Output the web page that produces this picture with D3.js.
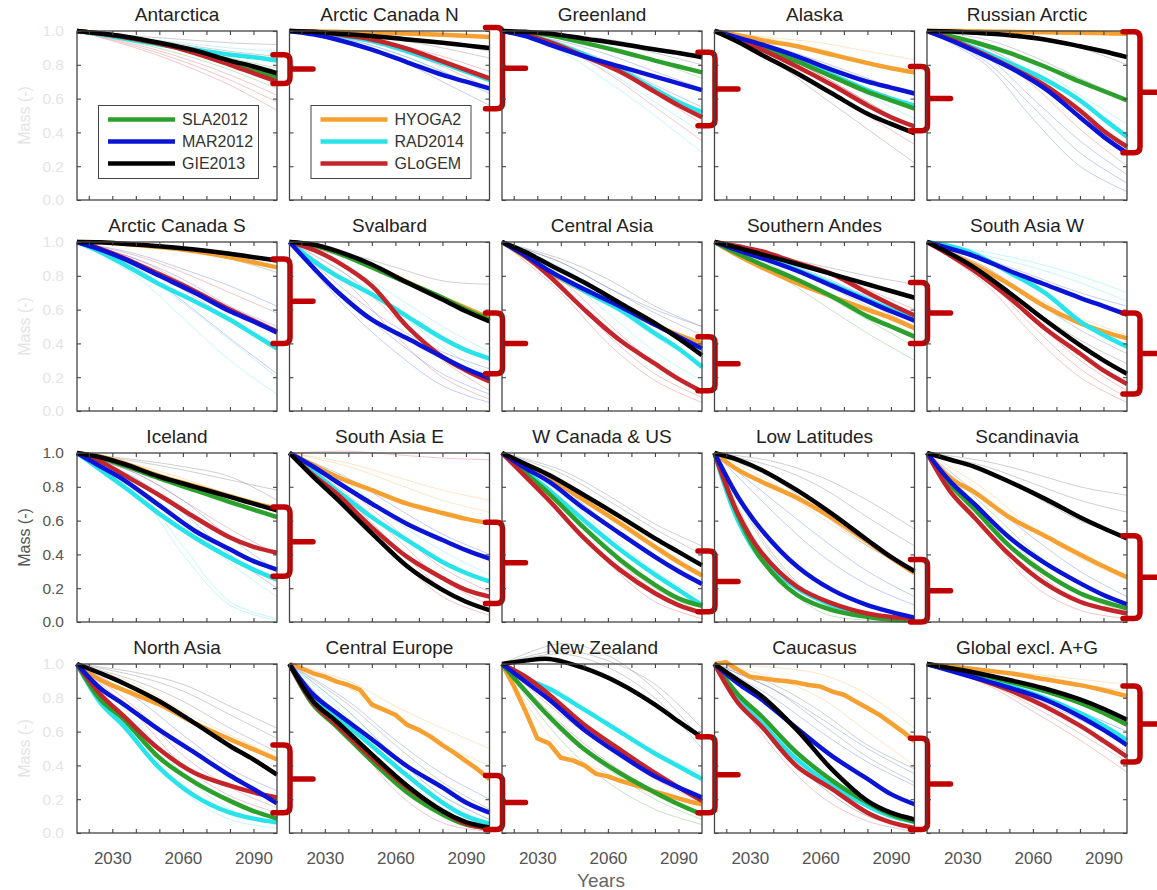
<!DOCTYPE html>
<html>
<head>
<meta charset="utf-8">
<script src="https://cdn.jsdelivr.net/npm/d3@7"></script>
<style>
  body { margin: 0; background: #fff; }
  svg { display: block; }
  text { font-family: "Liberation Sans", Arial, Helvetica, sans-serif; }
</style>
</head>
<body>
<svg id="chart" width="1157" height="890"></svg>
<script>
// Glacier mass (relative to 2015) per region, six glacier models.
const regions = ["Antarctica", "Arctic Canada N", "Greenland", "Alaska", "Russian Arctic",
  "Arctic Canada S", "Svalbard", "Central Asia", "Southern Andes", "South Asia W",
  "Iceland", "South Asia E", "W Canada & US", "Low Latitudes", "Scandinavia",
  "North Asia", "Central Europe", "New Zealand", "Caucasus", "Global excl. A+G"];

const years = [2015, 2025, 2035, 2050, 2065, 2080, 2090, 2100];
// rows with 18 values are given every 5 years
const detailYears = [2015, 2020, 2025, 2030, 2035, 2040, 2045, 2050, 2055, 2060,
  2065, 2070, 2075, 2080, 2085, 2090, 2095, 2100];
const memberYears = [2015, 2040, 2060, 2080, 2100];
const yTicks = [0, 0.2, 0.4, 0.6, 0.8, 1.0];
const xMinorTicks = [2020, 2030, 2040, 2050, 2060, 2070, 2080, 2090];
const xLabelTicks = [2030, 2060, 2090];

const sla2012 = [
  [1, .985, .965, .925, .875, .81, .77, .725],
  null,
  [1, .99, .975, .93, .88, .825, .79, .755],
  [1, .955, .90, .82, .73, .64, .59, .54],
  [1, .97, .935, .87, .79, .70, .645, .59],
  null,
  [1, .98, .937, .85, .76, .67, .60, .54],
  null,
  [1, .93, .867, .778, .677, .56, .50, .44],
  null,
  [1, .97, .925, .85, .78, .71, .665, .62],
  null,
  [1, .88, .76, .555, .37, .22, .14, .095],
  [1, .63, .37, .16, .07, .03, .015, .01],
  [1, .81, .67, .45, .29, .17, .12, .08],
  [1, .79, .67, .445, .30, .19, .13, .085],
  [1, .76, .63, .425, .24, .11, .05, .03],
  [1, .84, .69, .495, .355, .24, .17, .11],
  [1, .82, .69, .475, .31, .18, .11, .067],
  [1, .97, .945, .895, .84, .77, .71, .64]
];

const mar2012 = [
  null,
  [1, .98, .95, .89, .815, .74, .70, .66],
  [1, .97, .92, .85, .79, .73, .69, .65],
  [1, .96, .92, .85, .77, .70, .665, .63],
  [1, .945, .883, .785, .66, .49, .375, .277],
  [1, .955, .90, .80, .70, .59, .53, .465],
  [1, .85, .71, .54, .43, .32, .25, .195],
  [1, .92, .83, .72, .62, .51, .44, .37],
  [1, .95, .905, .83, .74, .65, .59, .535],
  [1, .96, .917, .83, .75, .67, .62, .57],
  [1, .92, .84, .69, .54, .43, .36, .31],
  [1, .92, .83, .70, .58, .485, .425, .375],
  [1, .91, .83, .67, .525, .385, .30, .225],
  [1, .74, .545, .33, .19, .10, .06, .026],
  [1, .83, .70, .50, .35, .23, .16, .105],
  [1, .855, .76, .61, .475, .34, .26, .175],
  [1, .82, .71, .555, .395, .27, .18, .12],
  [1, .895, .79, .61, .465, .335, .27, .21],
  [1, .885, .79, .62, .455, .32, .23, .17],
  [1, .96, .92, .86, .79, .69, .61, .52]
];

const gie2013 = [
  [1, .985, .967, .93, .885, .825, .79, .75],
  [1, .995, .985, .97, .95, .93, .915, .90],
  [1, .995, .985, .955, .925, .89, .87, .845],
  [1, .935, .86, .75, .63, .51, .45, .395],
  [1, .997, .99, .975, .95, .91, .88, .845],
  [1, .998, .99, .975, .955, .93, .91, .89],
  [1, .985, .947, .867, .76, .66, .59, .53],
  [1, .94, .867, .76, .64, .52, .43, .33],
  [1, .965, .927, .87, .81, .75, .71, .67],
  [1, .93, .85, .70, .54, .39, .30, .22],
  [1, .975, .935, .86, .80, .74, .70, .66],
  [1, .86, .73, .525, .33, .19, .12, .07],
  [1, .935, .87, .75, .625, .495, .415, .335],
  [1, .96, .90, .78, .64, .485, .385, .30],
  [1, .96, .92, .83, .73, .62, .555, .495],
  [1, .945, .885, .78, .65, .515, .435, .345],
  [1, .78, .66, .465, .28, .13, .065, .033],
  [1, 1.02, 1.03, .975, .885, .76, .66, .565],
  [1, .905, .81, .61, .375, .19, .12, .08],
  [1, .975, .95, .905, .855, .79, .735, .67]
];

const hyoga2 = [
  null,
  [1, .998, .995, .99, .985, .978, .972, .965],
  null,
  [1, .975, .945, .91, .86, .81, .78, .755],
  [1, 1, .998, .995, .992, .99, .987, .984],
  [1, .998, .988, .97, .945, .91, .88, .85],
  [1, .98, .94, .86, .765, .67, .61, .55],
  [1, .91, .82, .71, .61, .51, .45, .40],
  [1, .92, .85, .756, .677, .60, .55, .49],
  [1, .93, .865, .75, .62, .52, .47, .43],
  [1, .978, .94, .865, .805, .745, .705, .67],
  [1, .93, .86, .78, .70, .645, .61, .585],
  [1, .92, .85, .72, .585, .445, .355, .275],
  [1, .90, .83, .735, .615, .475, .38, .29],
  [1, .85, .77, .62, .51, .40, .33, .265],
  [1, .905, .845, .76, .65, .555, .495, .435],
  [1, .975, .945, .925, .896, .876, .847, .76, .73, .70, .64, .61, .57, .52, .475, .425, .376, .318],
  [1, .87, .72, .56, .53, .445, .43, .40, .35, .335, .31, .29, .27, .245, .225, .205, .185, .17],
  [1, 1.01, .965, .925, .916, .906, .90, .89, .876, .867, .837, .818, .778, .74, .70, .65, .60, .543],
  [1, .985, .97, .945, .91, .875, .845, .81]
];

const rad2014 = [
  [1, .98, .955, .92, .89, .86, .845, .825],
  [1, .99, .975, .94, .88, .81, .76, .71],
  [1, .98, .94, .86, .77, .655, .58, .52],
  [1, .955, .905, .825, .74, .65, .60, .56],
  [1, .955, .90, .81, .715, .59, .48, .375],
  [1, .94, .867, .75, .65, .54, .455, .37],
  [1, .89, .80, .69, .56, .43, .36, .31],
  [1, .92, .83, .71, .60, .46, .37, .26],
  [1, .955, .91, .835, .75, .66, .60, .55],
  [1, .975, .93, .82, .70, .53, .45, .38],
  [1, .90, .80, .64, .50, .38, .31, .25],
  [1, .89, .78, .62, .485, .355, .29, .24],
  [1, .89, .78, .60, .43, .28, .19, .10],
  [1, .60, .37, .20, .10, .04, .02, .015],
  null,
  [1, .77, .63, .385, .22, .12, .085, .063],
  [1, .80, .69, .515, .34, .18, .10, .055],
  [1, .915, .855, .73, .60, .47, .395, .32],
  [1, .79, .65, .435, .28, .16, .10, .065],
  [1, .965, .93, .87, .80, .71, .635, .55]
];

const glogem = [
  [1, .985, .965, .925, .87, .80, .75, .70],
  [1, .995, .98, .95, .895, .82, .77, .72],
  [1, .975, .935, .85, .76, .64, .56, .49],
  [1, .95, .89, .79, .68, .56, .49, .435],
  [1, .95, .89, .79, .68, .53, .41, .315],
  [1, .96, .905, .81, .71, .60, .535, .47],
  [1, .955, .885, .74, .50, .32, .24, .175],
  [1, .915, .80, .60, .42, .28, .19, .115],
  [1, .975, .945, .877, .81, .70, .63, .565],
  [1, .92, .83, .67, .49, .34, .24, .16],
  [1, .95, .87, .75, .62, .50, .445, .41],
  [1, .87, .76, .56, .385, .26, .19, .15],
  [1, .86, .72, .495, .31, .17, .10, .055],
  [1, .64, .41, .21, .11, .05, .03, .02],
  [1, .77, .62, .40, .23, .12, .08, .05],
  [1, .82, .69, .495, .355, .28, .24, .21],
  [1, .77, .64, .445, .27, .13, .055, .025],
  [1, .925, .82, .64, .495, .355, .27, .19],
  [1, .77, .63, .395, .26, .12, .063, .03],
  [1, .965, .92, .845, .75, .635, .545, .45]
];

// Single ensemble members (model code, values at memberYears)
const members = [
  [["GLO", 1, .90, .80, .68, .53], ["GLO", 1, .92, .84, .74, .62], ["GIE", 1, .97, .95, .93, .92], ["GIE", 1, .96, .92, .88, .85], ["RAD", 1, .95, .91, .87, .84], ["SLA", 1, .93, .86, .77, .66], ["GLO", 1, .91, .82, .71, .58], ["RAD", 1, .96, .93, .90, .88], ["SLA", 1, .95, .90, .84, .78]],
  [["MAR", 1, .94, .84, .70, .56], ["GLO", 1, .96, .89, .79, .66], ["GIE", 1, .99, .97, .93, .88], ["GIE", 1, .98, .95, .90, .84], ["RAD", 1, .95, .87, .76, .64], ["HYO", 1, .995, .99, .98, .96], ["MAR", 1, .95, .87, .76, .63], ["GLO", 1, .97, .92, .85, .76], ["RAD", 1, .96, .90, .81, .70]],
  [["RAD", 1, .88, .70, .50, .28], ["GLO", 1, .90, .75, .55, .35], ["MAR", 1, .92, .82, .68, .55], ["GIE", 1, .98, .95, .90, .85], ["GLO", 1, .93, .80, .63, .45], ["SLA", 1, .96, .90, .82, .72], ["RAD", 1, .90, .76, .58, .40], ["MAR", 1, .94, .86, .76, .66], ["GIE", 1, .97, .93, .87, .80]],
  [["GIE", 1, .82, .62, .42, .22], ["GLO", 1, .85, .68, .50, .33], ["HYO", 1, .96, .93, .88, .83], ["MAR", 1, .91, .82, .72, .62], ["GIE", 1, .88, .74, .58, .42], ["RAD", 1, .88, .76, .62, .48], ["GLO", 1, .88, .74, .58, .42], ["HYO", 1, .95, .89, .82, .75], ["MAR", 1, .89, .78, .66, .54]],
  [["MAR", 1, .80, .48, .20, .05], ["MAR", 1, .85, .60, .35, .15], ["GLO", 1, .88, .68, .42, .20], ["GIE", 1, .98, .95, .90, .80], ["GIE", 1, .95, .85, .72, .60], ["RAD", 1, .90, .75, .52, .30], ["MAR", 1, .82, .55, .28, .10], ["GLO", 1, .90, .74, .52, .30], ["RAD", 1, .92, .80, .62, .45]],
  [["RAD", 1, .80, .55, .30, .10], ["MAR", 1, .85, .65, .43, .22], ["GLO", 1, .90, .76, .60, .45], ["GIE", 1, .98, .95, .90, .82], ["GLO", 1, .92, .82, .70, .58], ["MAR", 1, .93, .84, .74, .62], ["RAD", 1, .84, .64, .42, .20], ["GLO", 1, .88, .72, .54, .36], ["MAR", 1, .90, .78, .62, .50]],
  [["MAR", 1, .60, .35, .15, .05], ["GLO", 1, .75, .45, .20, .07], ["GIE", 1, .93, .85, .77, .75], ["GIE", 1, .90, .78, .65, .55], ["RAD", 1, .80, .60, .38, .20], ["MAR", 1, .70, .50, .35, .25], ["GLO", 1, .80, .55, .30, .12], ["MAR", 1, .65, .42, .22, .10], ["RAD", 1, .85, .68, .50, .35]],
  [["GLO", 1, .70, .40, .18, .05], ["GLO", 1, .78, .52, .28, .10], ["RAD", 1, .85, .68, .50, .35], ["GIE", 1, .88, .73, .58, .45], ["MAR", 1, .88, .73, .60, .50], ["RAD", 1, .80, .58, .35, .18], ["GLO", 1, .74, .45, .22, .08], ["RAD", 1, .84, .64, .44, .28], ["GIE", 1, .90, .78, .62, .50]],
  [["SLA", 1, .82, .64, .46, .30], ["GIE", 1, .92, .86, .80, .75], ["GLO", 1, .90, .78, .64, .50], ["HYO", 1, .85, .72, .58, .42], ["RAD", 1, .88, .76, .62, .48], ["MAR", 1, .90, .80, .68, .58], ["SLA", 1, .86, .70, .54, .38], ["GLO", 1, .93, .84, .72, .60], ["HYO", 1, .88, .76, .62, .48]],
  [["GLO", 1, .75, .45, .20, .05], ["GLO", 1, .80, .55, .30, .12], ["RAD", 1, .92, .85, .76, .65], ["MAR", 1, .90, .80, .70, .62], ["GIE", 1, .82, .60, .42, .28], ["HYO", 1, .85, .68, .55, .45], ["GLO", 1, .78, .50, .25, .08], ["RAD", 1, .94, .88, .80, .70], ["GIE", 1, .85, .66, .48, .34]],
  [["RAD", 1, .80, .45, .12, .02], ["RAD", 1, .85, .62, .35, .15], ["MAR", 1, .85, .65, .40, .20], ["GIE", 1, .95, .90, .84, .78], ["GLO", 1, .88, .72, .55, .40], ["HYO", 1, .93, .85, .75, .65], ["RAD", 1, .78, .40, .10, .01], ["MAR", 1, .88, .72, .50, .30], ["GIE", 1, .96, .92, .86, .72]],
  [["GLO", 1, .70, .40, .15, .04], ["GLO", 1, .75, .50, .25, .10], ["RAD", 1, .82, .60, .42, .28], ["MAR", 1, .85, .68, .52, .40], ["HYO", 1, .92, .82, .72, .65], ["GLO", 1, 1.01, .99, .97, .96], ["GLO", 1, .72, .45, .20, .07], ["GLO", 1, .78, .55, .32, .18], ["HYO", 1, .94, .86, .78, .72]],
  [["GIE", 1, .90, .75, .58, .45], ["GLO", 1, .65, .35, .12, .02], ["RAD", 1, .72, .45, .22, .08], ["HYO", 1, .85, .65, .48, .35], ["MAR", 1, .80, .58, .38, .22], ["SLA", 1, .70, .42, .20, .06], ["GIE", 1, .88, .72, .55, .40], ["GLO", 1, .70, .42, .18, .05], ["RAD", 1, .76, .52, .30, .14]],
  [["GIE", 1, .92, .80, .62, .45], ["GIE", 1, .85, .65, .45, .30], ["SLA", 1, .30, .06, .01, 0], ["MAR", 1, .65, .40, .22, .10], ["GLO", 1, .40, .12, .03, 0], ["HYO", 1, .82, .62, .45, .32], ["GIE", 1, .95, .86, .72, .55], ["SLA", 1, .38, .12, .03, .01], ["MAR", 1, .72, .50, .30, .15]],
  [["GIE", 1, .95, .88, .80, .75], ["GIE", 1, .90, .75, .60, .50], ["GLO", 1, .55, .22, .07, .02], ["SLA", 1, .68, .42, .22, .10], ["MAR", 1, .72, .50, .30, .15], ["HYO", 1, .78, .55, .38, .25], ["GIE", 1, .92, .82, .72, .65], ["GLO", 1, .62, .32, .12, .04], ["SLA", 1, .64, .36, .16, .06]],
  [["GIE", 1, .95, .88, .75, .62], ["GIE", 1, .90, .78, .62, .48], ["RAD", 1, .60, .25, .08, .03], ["GLO", 1, .70, .40, .22, .12], ["MAR", 1, .80, .58, .38, .25], ["HYO", 1, .88, .72, .58, .45], ["GIE", 1, .93, .84, .70, .56], ["RAD", 1, .66, .35, .14, .05], ["GLO", 1, .74, .46, .27, .15]],
  [["HYO", 1, .90, .75, .62, .50], ["GLO", 1, .60, .25, .06, .01], ["RAD", 1, .68, .38, .15, .05], ["MAR", 1, .78, .55, .35, .20], ["GIE", 1, .72, .45, .22, .08], ["SLA", 1, .62, .32, .12, .03], ["HYO", 1, .86, .68, .52, .40], ["RAD", 1, .72, .45, .22, .08], ["GIE", 1, .76, .52, .30, .14]],
  [["GIE", 1, 1.12, 1.05, .85, .55], ["GIE", 1, 1.06, .98, .80, .50], ["SLA", 1, .55, .30, .14, .05], ["GLO", 1, .65, .42, .25, .12], ["RAD", 1, .82, .65, .48, .35], ["HYO", 1, .50, .35, .22, .12], ["GIE", 1, 1.08, 1.02, .88, .62], ["GLO", 1, .70, .50, .32, .18], ["SLA", 1, .60, .38, .20, .08]],
  [["HYO", 1, .98, .94, .82, .62], ["GIE", 1, .85, .65, .45, .30], ["MAR", 1, .85, .68, .50, .35], ["GLO", 1, .50, .22, .07, .01], ["RAD", 1, .55, .28, .10, .03], ["HYO", 1, .92, .80, .60, .40], ["GIE", 1, .88, .72, .52, .38], ["MAR", 1, .80, .60, .42, .28], ["GLO", 1, .55, .28, .10, .03]],
  [["GLO", 1, .88, .72, .55, .36], ["GLO", 1, .90, .78, .63, .48], ["HYO", 1, .97, .94, .91, .88], ["MAR", 1, .91, .80, .67, .53], ["GIE", 1, .94, .87, .78, .68], ["RAD", 1, .92, .83, .72, .60], ["GLO", 1, .89, .75, .59, .42], ["HYO", 1, .96, .92, .88, .84], ["MAR", 1, .92, .83, .72, .60]]
];

// Spread of the 2100 projections per region
const bracketHigh = [.86, 1.02, .875, .79, .995, .90, .58, .44, .76, .58, .68, .59, .42, .37, .51, .52, .34, .57, .56, .87];
const bracketLow  = [.69, .54, .44, .41, .28, .40, .22, .12, .40, .10, .27, .11, .06, .00, .02, .12, .02, .12, .02, .42];

const modelNames = ["SLA2012", "MAR2012", "GIE2013", "HYOGA2", "RAD2014", "GLoGEM"];
const modelCodes = ["SLA", "MAR", "GIE", "HYO", "RAD", "GLO"];
const modelColors = ["#2ca02c", "#0a14d6", "#000000", "#f5a030", "#28e4ea", "#c3252b"];
const memberColors = ["#2ca02c", "#3344dd", "#8c8c8c", "#f5a030", "#28e4ea", "#d2343a"];
const modelSeries = [sla2012, mar2012, gie2013, hyoga2, rad2014, glogem];
const drawOrder = [3, 4, 0, 5, 1, 2];

// ---- layout ----
const svg = d3.select("#chart");
const W = 200, H = 169;
const colLeft = c => 77 + c * 212.5;
const rowTop = r => 31 + r * 211;

const x = d3.scaleLinear().domain([2015, 2100]).range([0, W]);
const y = d3.scaleLinear().domain([0, 1]).range([H, 0]);

const smooth = d3.line().x(d => x(d[0])).y(d => y(d[1])).curve(d3.curveCatmullRom.alpha(0.5));
const jagged = d3.line().x(d => x(d[0])).y(d => y(d[1]));

const axisColor = "#444";
const faint = "#e4e4e4";

regions.forEach((name, i) => {
  const r = Math.floor(i / 5), c = i % 5;
  const g = svg.append("g").attr("transform", `translate(${colLeft(c)},${rowTop(r)})`);

  // ensemble members
  members[i].forEach(m => {
    const k = modelCodes.indexOf(m[0]);
    const pts = memberYears.map((yr, j) => [yr, m[j + 1]]);
    g.append("path")
      .attr("d", smooth(pts))
      .attr("fill", "none")
      .attr("stroke", memberColors[k])
      .attr("stroke-opacity", k === 2 ? 0.42 : 0.28)
      .attr("stroke-width", 1);
  });

  // model means
  drawOrder.forEach(k => {
    const vals = modelSeries[k][i];
    if (!vals) return;
    const yrs = vals.length === detailYears.length ? detailYears : years;
    const pts = yrs.map((yr, j) => [yr, vals[j]]);
    g.append("path")
      .attr("d", (yrs === detailYears ? jagged : smooth)(pts))
      .attr("fill", "none")
      .attr("stroke", modelColors[k])
      .attr("stroke-width", 4.5)
      .attr("stroke-linejoin", "round");
  });

  // frame and inner ticks
  g.append("rect").attr("width", W).attr("height", H)
    .attr("fill", "none").attr("stroke", axisColor).attr("stroke-width", 1.3);

  const showY = c === 0;
  const yLabColor = r === 2 ? "#555" : faint;
  const axL = g.append("g").call(d3.axisLeft(y).tickValues(yTicks).tickSize(-4).tickPadding(13)
    .tickFormat(showY ? d3.format(".1f") : ""));
  const axR = g.append("g").attr("transform", `translate(${W},0)`)
    .call(d3.axisRight(y).tickValues(yTicks).tickSize(-4).tickFormat(""));
  const axB = g.append("g").attr("transform", `translate(0,${H})`)
    .call(d3.axisBottom(x).tickValues(xMinorTicks).tickSize(-4).tickFormat(""));
  const axT = g.append("g")
    .call(d3.axisTop(x).tickValues(xMinorTicks).tickSize(-4).tickFormat(""));
  [axL, axR, axB, axT].forEach(a => {
    a.select(".domain").remove();
    a.selectAll(".tick line").attr("stroke", axisColor).attr("stroke-width", 1.1);
  });
  axL.selectAll("text").attr("fill", yLabColor).attr("font-size", 15.5)
    .attr("font-family", "Liberation Sans, Arial, sans-serif");

  if (r === 3) {
    const axLab = g.append("g").attr("transform", `translate(0,${H})`)
      .call(d3.axisBottom(x).tickValues(xLabelTicks).tickSize(0).tickPadding(19).tickFormat(d3.format("d")));
    axLab.select(".domain").remove();
    axLab.selectAll("text").attr("fill", "#555").attr("font-size", 17)
      .attr("font-family", "Liberation Sans, Arial, sans-serif");
  }

  if (showY) {
    g.append("text")
      .attr("transform", `translate(${-53},${H / 2}) rotate(-90)`)
      .attr("text-anchor", "middle")
      .attr("dy", "0.35em")
      .attr("font-size", 16)
      .attr("fill", yLabColor)
      .text("Mass (-)");
  }

  // title
  g.append("text")
    .attr("x", W / 2).attr("y", -10.5)
    .attr("text-anchor", "middle")
    .attr("font-size", 19)
    .attr("fill", "#222")
    .text(name);

  // spread bracket
  const yt = y(bracketHigh[i]), yb = y(bracketLow[i]), ym = (yt + yb) / 2;
  const x0 = W - 4, xv = W + 13, rr = 6;
  g.append("path")
    .attr("d", `M${x0},${yt} H${xv - rr} Q${xv},${yt} ${xv},${yt + rr} V${yb - rr} Q${xv},${yb} ${xv - rr},${yb} H${x0} M${xv},${ym} H${xv + 23}`)
    .attr("fill", "none")
    .attr("stroke", "#c00000")
    .attr("stroke-width", 5.5)
    .attr("stroke-linecap", "round");
});

// legends
function legend(panel, idx) {
  const g = svg.append("g").attr("transform", `translate(${colLeft(panel)},${rowTop(0)})`);
  g.append("rect").attr("x", 21.5).attr("y", 74.5).attr("width", 160).attr("height", 73)
    .attr("fill", "#fff").attr("stroke", "#444").attr("stroke-width", 1);
  idx.forEach((k, j) => {
    const yy = 88.5 + j * 22;
    g.append("line").attr("x1", 31).attr("x2", 98).attr("y1", yy).attr("y2", yy)
      .attr("stroke", modelColors[k]).attr("stroke-width", 4.5);
    g.append("text").attr("x", 105).attr("y", yy).attr("dy", "0.36em")
      .attr("font-size", 16).attr("fill", "#333").text(modelNames[k]);
  });
}
legend(0, [0, 1, 2]);
legend(1, [3, 4, 5]);

svg.append("text")
  .attr("x", 601).attr("y", 887)
  .attr("text-anchor", "middle")
  .attr("font-size", 19)
  .attr("fill", "#666")
  .text("Years");
</script>
</body>
</html>
